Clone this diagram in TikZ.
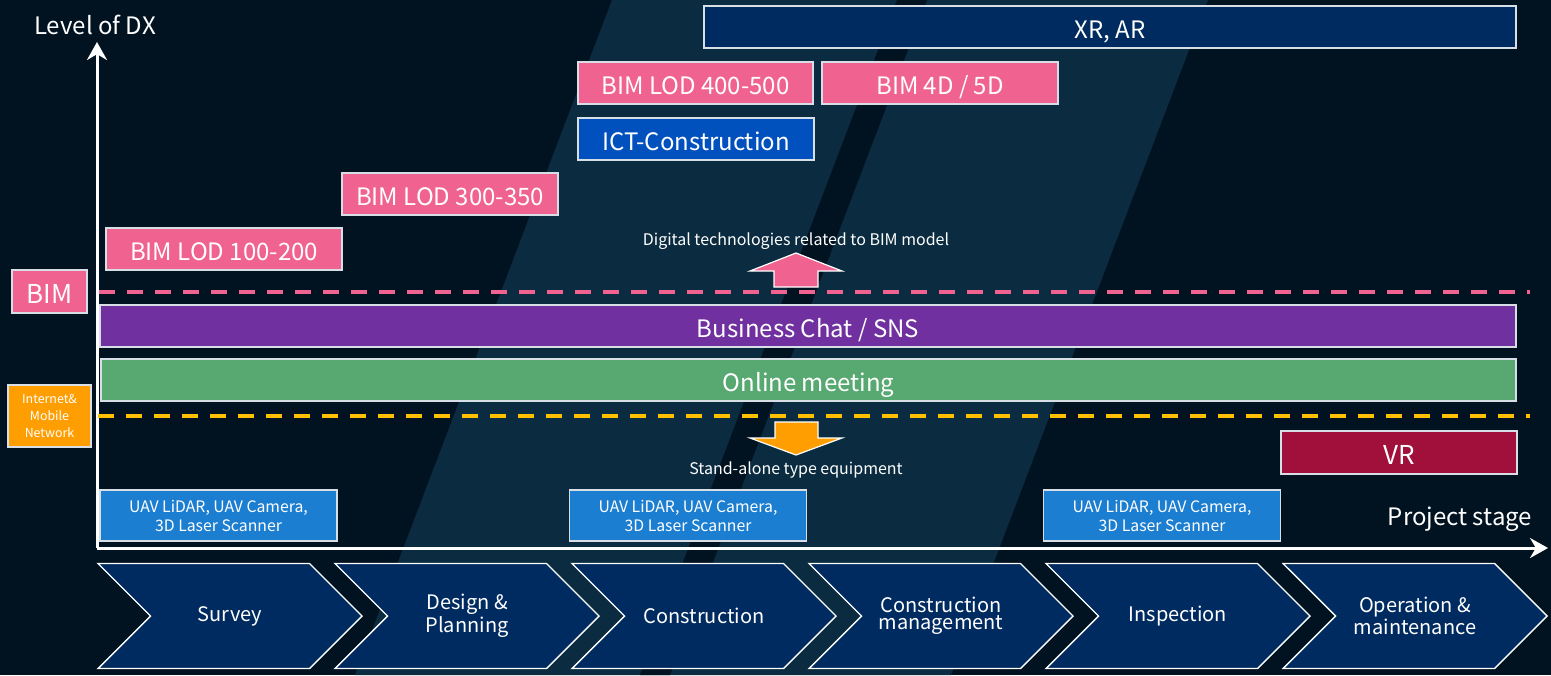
\documentclass[tikz,border=0pt]{standalone}
\usepackage{fontspec}
\setmainfont{Noto Sans CJK JP}
\usetikzlibrary{arrows.meta}
\usetikzlibrary{shapes.symbols}

\definecolor{bgdark}{HTML}{011220}
\definecolor{bandteal}{HTML}{0B2C40}
\definecolor{navybox}{HTML}{002B60}
\definecolor{bimpink}{HTML}{F06290}
\definecolor{ictblue}{HTML}{0050BE}
\definecolor{snspurple}{HTML}{7030A0}
\definecolor{meetgreen}{HTML}{58A872}
\definecolor{netorange}{HTML}{FF9E00}
\definecolor{dashyellow}{HTML}{FFC000}
\definecolor{vrred}{HTML}{A0103A}
\definecolor{uavblue}{HTML}{1C7ED0}
\definecolor{edgegray}{HTML}{D8DEE6}

\begin{document}
\begin{tikzpicture}[x=0.5pt,y=-0.5pt,
  bar/.style={draw=edgegray,line width=0.6pt,text=white,inner sep=0pt,minimum height=21pt,text height=11.3pt,text depth=0pt,font=\fontsize{12}{14}\selectfont},
  bigbar/.style={bar,minimum height=21.5pt,text height=12pt,font=\fontsize{13}{15}\selectfont},
  uav/.style={draw=edgegray,line width=0.6pt,text=white,inner sep=0pt,fill=uavblue,minimum width=118.5pt,minimum height=25.5pt,align=center,font=\fontsize{7.9}{9.5}\selectfont},
  stage/.style={signal,signal from=west,signal to=east,signal pointer angle=90,draw=white,line width=0.7pt,fill=navybox,text=white,minimum width=132pt,minimum height=52.5pt,inner sep=0pt,align=center,font=\fontsize{10}{8.6}\selectfont},
  axis/.style={white,line width=1.5pt,-{Stealth[length=9pt,width=10pt]}},
  level/.style={line width=2pt,dash pattern=on 8pt off 6pt},
  note/.style={text=white,font=\fontsize{8}{9}\selectfont},
  blockarrow/.style={draw=white,line width=0.6pt,line join=miter}]
  %background
  \useasboundingbox (0,0) rectangle (1551,675);
  \fill[bgdark] (0,0) rectangle (1551,675);
  \fill[bandteal] (612,0) -- (1208,0) -- (951,675) -- (355,675) -- cycle;
  \fill[bgdark] (897,0) -- (927,0) -- (670,675) -- (640,675) -- cycle;

  %axes
  \coordinate (origin) at (97,548);
  \coordinate (dx top) at (97,42);
  \coordinate (stage end) at (1548,548);
  \draw[axis] (origin) -- (dx top);
  \draw[axis] (origin) -- (stage end);
  \node[text=white,font=\fontsize{12}{14}\selectfont] (dx label) at (95,25) {Level of DX};
  \node[text=white,font=\fontsize{12}{14}\selectfont] (stage label) at (1460,519) {Project stage};

  %bim model
  \node[bar,fill=navybox,minimum width=406pt] (xr ar) at (1110,27) {XR, AR};
  \node[bar,fill=bimpink,minimum width=117.5pt] (lod high) at (695.5,83) {BIM LOD 400-500};
  \node[bar,fill=bimpink,minimum width=118pt] (bim 4d) at (940,83) {BIM 4D / 5D};
  \node[bar,fill=ictblue,minimum width=118pt] (ict) at (696,139) {ICT-Construction};
  \node[bar,fill=bimpink,minimum width=108pt] (lod mid) at (450,194) {BIM LOD 300-350};
  \node[bar,fill=bimpink,minimum width=118pt] (lod low) at (224,249) {BIM LOD 100-200};
  \node[bigbar,fill=bimpink,minimum width=37.5pt] (bim) at (49.5,291.5) {BIM};
  \node[note] (bim note) at (796,241) {Digital technologies related to BIM model};
  \draw[blockarrow,fill=bimpink] (774,287) -- (774,271) -- (750,271) -- (796,253) -- (842,271) -- (818,271) -- (818,287) -- cycle;
  \coordinate (bim line start) at (99,292);
  \coordinate (bim line end) at (1530,292);
  \draw[level,bimpink] (bim line start) -- (bim line end);

  %internet
  \node[bar,fill=snspurple,minimum width=708pt] (sns) at (808,326) {Business Chat / SNS};
  \node[bar,fill=meetgreen,minimum width=707.5pt] (meeting) at (808.5,380) {Online meeting};
  \node[uav,fill=netorange,minimum width=41.5pt,minimum height=31pt,font=\fontsize{6.2}{8.5}\selectfont] (net) at (49.5,416) {Internet\&\\Mobile\\Network};
  \coordinate (net line start) at (98,416);
  \coordinate (net line end) at (1530,416);
  \draw[level,dashyellow] (net line start) -- (net line end);
  \draw[blockarrow,fill=netorange] (775,422) -- (818,422) -- (818,438) -- (842,438) -- (796,455) -- (750,438) -- (775,438) -- cycle;
  \node[note] (alone note) at (796,470) {Stand-alone type equipment};

  %stand-alone
  \node[bigbar,fill=vrred,minimum width=118pt] (vr) at (1399,452.5) {VR};
  \foreach \x [count=\i] in {218.5,688,1162}
    \node[uav] (uav \i) at (\x,515.5) {UAV LiDAR, UAV Camera,\\3D Laser Scanner};

  %stages
  \foreach \lab [count=\i] in {Survey,{Design \&\\Planning},Construction,{Construction\\management},Inspection,{Operation \&\\maintenance}}
    \node[stage] (stage \i) at ({230+237*(\i-1)},616) {\lab};
\end{tikzpicture}
\end{document}
